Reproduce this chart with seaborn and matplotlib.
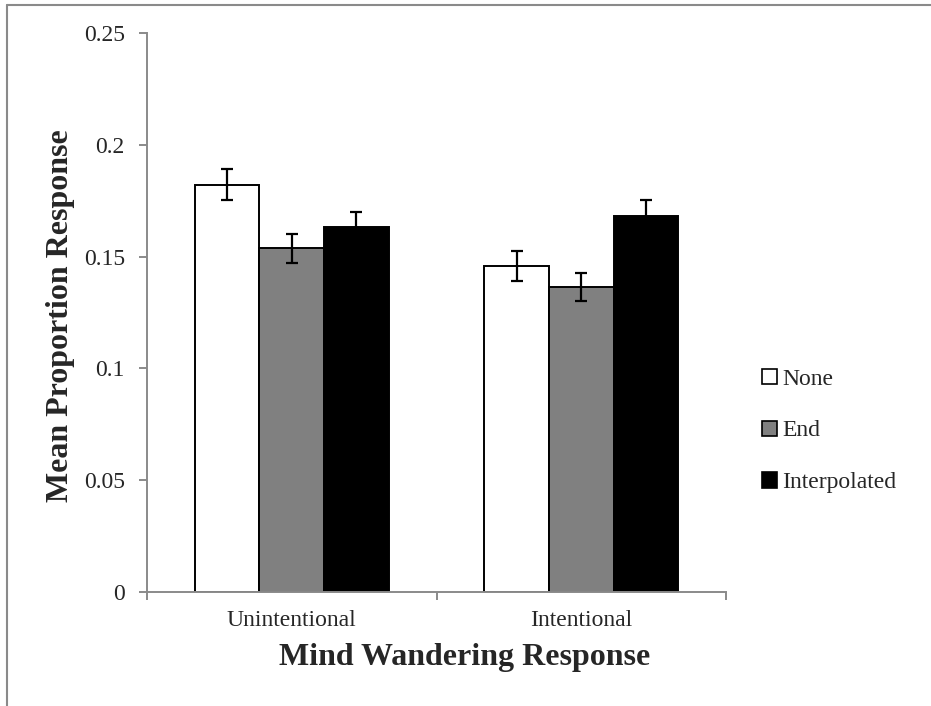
import matplotlib
matplotlib.use('Agg')
import matplotlib.pyplot as plt
import seaborn as sns
import pandas as pd
from matplotlib.lines import Line2D

# ---- data ----
categories = ['Unintentional', 'Intentional']
conditions = ['None', 'End', 'Interpolated']
none_vals = [0.1823, 0.1458]
end_vals = [0.1538, 0.1364]
interp_vals = [0.1632, 0.1683]
none_err = [0.0070, 0.0068]
end_err = [0.0065, 0.0064]
interp_err = [0.0069, 0.0070]
bar_colors = ['#ffffff', '#808080', '#000000']
yticks = [0, 0.05, 0.1, 0.15, 0.2, 0.25]
ytick_labels = ['0', '0.05', '0.1', '0.15', '0.2', '0.25']
xlabel = 'Mind Wandering Response'
ylabel = 'Mean Proportion Response'

series = {'None': none_vals, 'End': end_vals, 'Interpolated': interp_vals}
errors = {'None': none_err, 'End': end_err, 'Interpolated': interp_err}

rows = []
for cond in conditions:
    for cat, v in zip(categories, series[cond]):
        rows.append({'category': cat, 'condition': cond, 'value': v})
df = pd.DataFrame(rows)

sns.set_style('white')
plt.rcParams['font.family'] = ['Liberation Serif', 'DejaVu Serif']

gray = '#8a8a8a'
fig = plt.figure(figsize=(9.31, 7.06), dpi=100)
ax = fig.add_axes([147/931, 1-591.8/706, 579/931, 558.5/706])

sns.barplot(data=df, x='category', y='value', hue='condition',
            order=categories, hue_order=conditions, palette=bar_colors,
            edgecolor='black', linewidth=1.4, width=0.67, errorbar=None,
            saturation=1, ax=ax)

for cond, cont in zip(conditions, ax.containers):
    xs = [p.get_x() + p.get_width()/2 for p in cont.patches]
    hs = [p.get_height() for p in cont.patches]
    ax.errorbar(xs, hs, yerr=errors[cond], fmt='none', ecolor='black',
                elinewidth=1.6, capsize=4.5, capthick=1.6, zorder=5)

ax.set_xlim(-0.5, 1.5)
ax.set_ylim(0, 0.25)
ax.set_yticks(yticks)
ax.set_yticklabels(ytick_labels)
ax.set_xticks([0, 1])
ax.set_xticklabels(categories)
ax.set_xticks([-0.5, 0.5, 1.5], minor=True)

for s in ['top', 'right']:
    ax.spines[s].set_visible(False)
for s in ['left', 'bottom']:
    ax.spines[s].set_color(gray)
    ax.spines[s].set_linewidth(1.4)

ax.tick_params(axis='y', which='major', direction='out', length=6, width=1.4,
               color=gray, labelsize=17, pad=10, left=True)
ax.tick_params(axis='x', which='major', length=0, labelsize=17, pad=13)
ax.tick_params(axis='x', which='minor', direction='out', length=6, width=1.4,
               color=gray, bottom=True)

ax.set_xlabel(xlabel, fontsize=23, fontweight='bold')
ax.set_ylabel(ylabel, fontsize=23, fontweight='bold')
ax.xaxis.set_label_coords(0.548, -0.118)
ax.xaxis.label.set_verticalalignment('center')
ax.yaxis.set_label_coords(-0.150, 0.495)
ax.yaxis.label.set_verticalalignment('center')

leg = ax.legend(loc='center left', bbox_to_anchor=(762/931, 1-431/706),
                bbox_transform=fig.transFigure, frameon=False, fontsize=17,
                handlelength=0.62, handleheight=0.62, handletextpad=0.25,
                labelspacing=1.3, borderpad=0, borderaxespad=0)
for h in leg.legend_handles:
    h.set_edgecolor('black')
    h.set_linewidth(1.2)

# figure frame (left and top only)
fig.add_artist(Line2D([7/931, 7/931], [0, 1-5/706], transform=fig.transFigure,
                      color=gray, lw=1.5))
fig.add_artist(Line2D([7/931, 1], [1-5/706, 1-5/706], transform=fig.transFigure,
                      color=gray, lw=1.5))

fig.savefig('out.png', dpi=100, facecolor='white')
